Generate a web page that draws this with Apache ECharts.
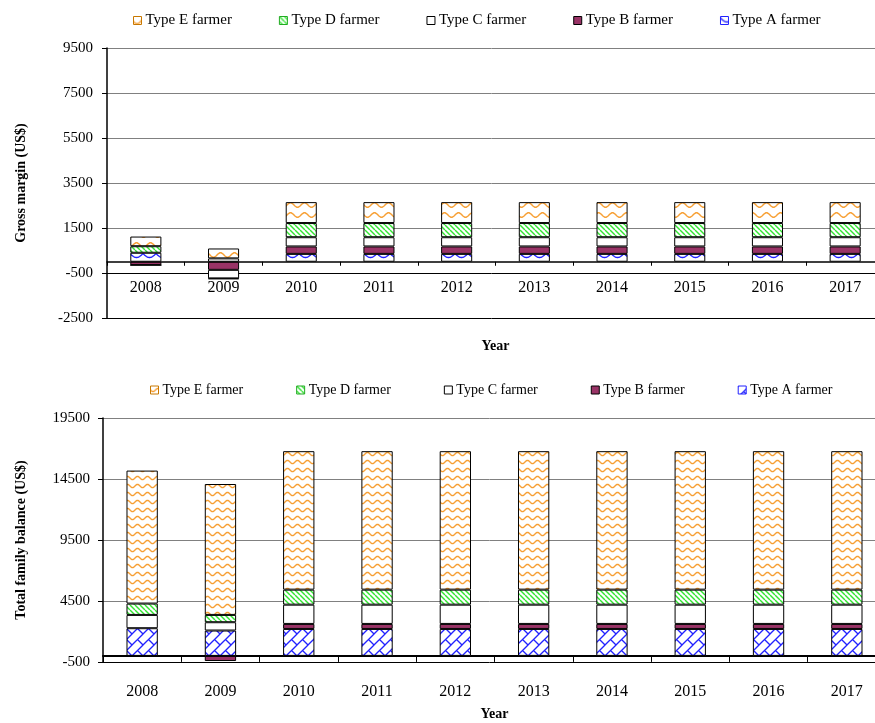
<!DOCTYPE html>
<html><head><meta charset="utf-8">
<script src="https://cdn.jsdelivr.net/npm/echarts@6/dist/echarts.min.js"></script>
<style>
html,body{margin:0;padding:0;background:#fff;}
#c1{position:absolute;left:0;top:0;width:875px;height:370px;}
#c2{position:absolute;left:0;top:370px;width:875px;height:353px;}
</style>
</head><body><div id="c1"></div><div id="c2"></div>
<script>
// ---- data ----
const years = ['2008','2009','2010','2011','2012','2013','2014','2015','2016','2017'];
const seriesNames = ['Type A farmer','Type B farmer','Type C farmer','Type D farmer','Type E farmer'];
const legendOrder = ['Type E farmer','Type D farmer','Type C farmer','Type B farmer','Type A farmer'];

// Gross margin (US$)
const gmA = [400, 150, 350, 350, 350, 350, 350, 350, 350, 350];
const gmB = [-150, -360, 330, 330, 330, 330, 330, 330, 330, 330];
const gmC = [0, -380, 410, 410, 410, 410, 410, 410, 410, 410];
const gmD = [290, -30, 630, 630, 630, 630, 630, 630, 630, 630];
const gmE = [430, 440, 930, 930, 930, 930, 930, 930, 930, 930];
const gmTicks = [-2500, -500, 1500, 3500, 5500, 7500, 9500];

// Total family balance (US$)
const fbA = [2270, 2080, 2210, 2210, 2210, 2210, 2210, 2210, 2210, 2210];
const fbB = [-40, -420, 410, 410, 410, 410, 410, 410, 410, 410];
const fbC = [1090, 680, 1580, 1580, 1580, 1580, 1580, 1580, 1580, 1580];
const fbD = [930, 600, 1230, 1230, 1230, 1230, 1230, 1230, 1230, 1230];
const fbE = [10900, 10730, 11350, 11350, 11350, 11350, 11350, 11350, 11350, 11350];
const fbTicks = [-500, 4500, 9500, 14500, 19500];

// ---- patterns ----
const ORANGE = '#F7A035', GREEN = '#33E633', MAROON = '#993366', BLUE = '#2222FF';
const FONT = '"Liberation Serif", "Times New Roman", serif';

function tile(w, h, draw) {
  const c = document.createElement('canvas');
  c.width = w; c.height = h;
  const g = c.getContext('2d');
  g.fillStyle = '#fff'; g.fillRect(0, 0, w, h);
  draw(g, w, h);
  return c;
}
function wave(period, rowH, amp, color, lw) {
  return tile(period, rowH, (g, w, h) => {
    g.strokeStyle = color; g.lineWidth = lw; g.beginPath();
    for (let x = -1; x <= w + 1; x += 0.5) {
      const y = h / 2 + amp * Math.sin(2 * Math.PI * x / w);
      if (x === -1) g.moveTo(x, y); else g.lineTo(x, y);
    }
    g.stroke();
  });
}
function scallop(period, rowH, amp, color, lw) {
  return tile(period, rowH, (g, w, h) => {
    g.strokeStyle = color; g.lineWidth = lw; g.beginPath();
    for (let x = -1; x <= w + 1; x += 0.5) {
      const y = 1.5 + amp * Math.abs(Math.sin(Math.PI * x / w));
      if (x === -1) g.moveTo(x, y); else g.lineTo(x, y);
    }
    g.stroke();
  });
}
function diag(s, color, lw) {
  return tile(s, s, (g, w, h) => {
    g.strokeStyle = color; g.lineWidth = lw;
    for (const x0 of [-s, 0, s]) { g.beginPath(); g.moveTo(x0, 0); g.lineTo(x0 + s, s); g.stroke(); }
  });
}
function brick(T, color, lw) {
  return tile(T, T, (g) => {
    g.strokeStyle = color; g.lineWidth = lw;
    g.translate(T / 2, T / 2); g.rotate(-Math.PI / 4);
    const h = T / Math.SQRT2, w = 2 * h, R = 4 * T;
    for (let j = -8; j <= 8; j++) {
      const y = j * h;
      g.beginPath(); g.moveTo(-R, y); g.lineTo(R, y); g.stroke();
      const off = (Math.abs(j) % 2 === 0) ? 0 : w / 2;
      for (let i = -6; i <= 6; i++) {
        const x = i * w + off;
        g.beginPath(); g.moveTo(x, y); g.lineTo(x, y + h); g.stroke();
      }
    }
  });
}
const pat = c => ({ image: c, repeat: 'repeat' });

const topFills = {
  'Type A farmer': pat(scallop(13, 9, 4, BLUE, 1.4)),
  'Type B farmer': MAROON,
  'Type C farmer': '#ffffff',
  'Type D farmer': pat(diag(5, GREEN, 1.4)),
  'Type E farmer': pat(wave(14, 10, 2.2, ORANGE, 1.5))
};
const botFills = {
  'Type A farmer': pat(brick(11, BLUE, 1.3)),
  'Type B farmer': MAROON,
  'Type C farmer': '#ffffff',
  'Type D farmer': pat(diag(5, GREEN, 1.4)),
  'Type E farmer': pat(wave(10, 8, 1.6, ORANGE, 1.4))
};
const iconBorder = {
  'Type A farmer': BLUE, 'Type B farmer': '#000', 'Type C farmer': '#000',
  'Type D farmer': '#22AA22', 'Type E farmer': '#C87800'
};

function buildSeries(lists, fills) {
  return seriesNames.map((n, i) => ({
    name: n, type: 'bar', stack: 'total', data: lists[i], barWidth: '40%',
    itemStyle: { color: fills[n], borderColor: '#000', borderWidth: 1 },
    emphasis: { disabled: true }
  }));
}

function buildOption(cfg) {
  return {
    animation: false,
    backgroundColor: '#fff',
    textStyle: { fontFamily: FONT },
    legend: {
      data: legendOrder.map(n => ({ name: n, itemStyle: { borderColor: iconBorder[n], borderWidth: 1 } })),
      left: cfg.legendLeft, top: cfg.legendTop, itemWidth: 8, itemHeight: 8,
      itemGap: cfg.legendGap, icon: 'rect',
      textStyle: { fontFamily: FONT, fontSize: cfg.legendFont, color: '#000', padding: [0, 0, 0, -1] },
      selectedMode: false
    },
    grid: { left: cfg.left, right: cfg.right, top: cfg.top, bottom: cfg.bottom, containLabel: false, outerBoundsMode: 'none' },
    xAxis: {
      type: 'category', data: years,
      axisLine: { onZero: true, lineStyle: { color: '#000', width: cfg.zeroW } },
      axisTick: { show: true, alignWithLabel: false, interval: 0, length: cfg.tickLen, lineStyle: { color: '#000' } },
      axisLabel: { fontFamily: FONT, fontSize: 16, color: '#000', margin: cfg.xLabelMargin, interval: 0 },
      name: 'Year', nameLocation: 'middle', nameGap: cfg.xNameGap,
      nameTextStyle: { fontFamily: FONT, fontSize: 14, fontWeight: 'bold', color: '#000' }
    },
    yAxis: {
      type: 'value', min: cfg.ticks[0], max: cfg.ticks[cfg.ticks.length - 1],
      interval: cfg.ticks[1] - cfg.ticks[0],
      axisLine: { show: true, lineStyle: { color: '#000', width: 1.5 } },
      axisTick: { show: true, length: 5, lineStyle: { color: '#000' } },
      axisLabel: { fontFamily: FONT, fontSize: 15, color: '#000', margin: cfg.yLabelMargin,
        formatter: v => cfg.ticks.indexOf(v) >= 0 ? String(v) : '' },
      splitLine: { show: true, lineStyle: { color: cfg.splitColors, width: 1 } },
      name: cfg.yName, nameLocation: 'middle', nameRotate: 90, nameGap: cfg.yNameGap,
      nameTextStyle: { fontFamily: FONT, fontSize: 14, fontWeight: 'bold', color: '#000' }
    },
    series: cfg.series
  };
}

const c1 = echarts.init(document.getElementById('c1'), null, { renderer: 'canvas' });
c1.setOption(buildOption({
  legendLeft: 128, legendTop: 8, legendGap: 47, legendFont: 15,
  left: 107, right: -9, top: 48, bottom: 52,
  zeroW: 1.5, tickLen: 4, xLabelMargin: -38, xNameGap: 21,
  ticks: gmTicks, yLabelMargin: 14, yName: 'Gross margin (US$)', yNameGap: 79,
  splitColors: ['#000', '#000', '#808080', '#808080', '#808080', '#808080', '#808080'],
  series: buildSeries([gmA, gmB, gmC, gmD, gmE], topFills)
}));

const c2 = echarts.init(document.getElementById('c2'), null, { renderer: 'canvas' });
c2.setOption(buildOption({
  legendLeft: 145, legendTop: 8, legendGap: 53, legendFont: 14,
  left: 103, right: -11, top: 48, bottom: 61,
  zeroW: 2, tickLen: 6, xLabelMargin: 22, xNameGap: 45,
  ticks: fbTicks, yLabelMargin: 13, yName: 'Total family balance (US$)', yNameGap: 75,
  splitColors: ['#000', '#808080', '#808080', '#808080', '#808080'],
  series: buildSeries([fbA, fbB, fbC, fbD, fbE], botFills)
}));
</script>
</body></html>
